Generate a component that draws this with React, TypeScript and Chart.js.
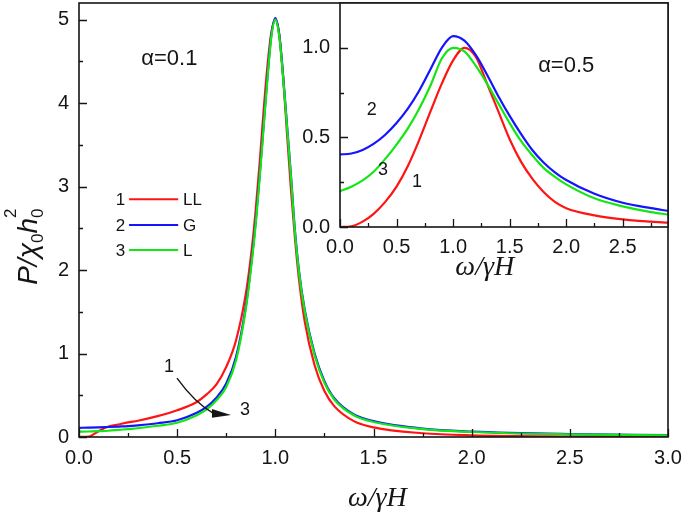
import React, { useEffect, useRef } from "react";
import { Chart, registerables } from "chart.js";

Chart.register(...registerables);

// ---------- Data ----------
// Main panel, alpha = 0.1
const mainX = [0, 0.05, 0.1, 0.15, 0.2, 0.25, 0.3, 0.4, 0.5, 0.6, 0.65, 0.7, 0.75, 0.8, 0.85, 0.88, 0.9, 0.92, 0.94, 0.96, 0.98, 1.0, 1.02, 1.04, 1.06, 1.08, 1.1, 1.12, 1.15, 1.2, 1.25, 1.3, 1.4, 1.5, 1.75, 2.0, 2.5, 3.0];
const mainLL = [0, 0.005, 0.07, 0.125, 0.15, 0.175, 0.195, 0.25, 0.32, 0.42, 0.51, 0.63, 0.84, 1.16, 1.72, 2.25, 2.72, 3.28, 3.9, 4.45, 4.85, 5.0, 4.82, 4.3, 3.62, 2.95, 2.38, 1.9, 1.38, 0.86, 0.55, 0.37, 0.19, 0.115, 0.045, 0.02, 0.006, 0.002];
const mainG = [0.11, 0.112, 0.115, 0.12, 0.125, 0.13, 0.14, 0.165, 0.2, 0.29, 0.36, 0.47, 0.64, 0.96, 1.57, 2.13, 2.58, 3.13, 3.73, 4.32, 4.82, 5.02, 4.82, 4.32, 3.72, 3.12, 2.47, 2.0, 1.52, 1.0, 0.67, 0.465, 0.27, 0.19, 0.1, 0.065, 0.035, 0.022];
const mainL = [0.065, 0.066, 0.07, 0.075, 0.085, 0.095, 0.105, 0.135, 0.17, 0.26, 0.33, 0.44, 0.6, 0.92, 1.54, 2.1, 2.55, 3.1, 3.7, 4.3, 4.8, 5.0, 4.8, 4.3, 3.7, 3.1, 2.45, 1.98, 1.5, 0.98, 0.65, 0.45, 0.26, 0.18, 0.095, 0.06, 0.032, 0.02];

// Inset panel, alpha = 0.5
const insetX = [0, 0.1, 0.2, 0.3, 0.4, 0.5, 0.6, 0.7, 0.8, 0.9, 1.0, 1.1, 1.2, 1.3, 1.4, 1.5, 1.6, 1.7, 1.8, 1.9, 2.0, 2.25, 2.5, 2.75, 2.9];
const insetLL = [0, 0.004, 0.03, 0.075, 0.14, 0.225, 0.34, 0.485, 0.645, 0.8, 0.93, 1.0, 0.95, 0.8, 0.645, 0.49, 0.365, 0.27, 0.195, 0.14, 0.105, 0.065, 0.043, 0.03, 0.024];
const insetG = [0.405, 0.41, 0.43, 0.465, 0.515, 0.58, 0.66, 0.76, 0.88, 1.0, 1.065, 1.04, 0.96, 0.85, 0.73, 0.62, 0.52, 0.43, 0.36, 0.305, 0.262, 0.185, 0.135, 0.105, 0.09];
const insetL = [0.2, 0.225, 0.26, 0.31, 0.38, 0.46, 0.55, 0.66, 0.79, 0.94, 1.0, 0.98, 0.9, 0.8, 0.69, 0.58, 0.48, 0.4, 0.33, 0.28, 0.238, 0.16, 0.115, 0.083, 0.07];

// Ticks
const mainXTicks = [0, 0.5, 1, 1.5, 2, 2.5, 3];
const mainXMinor = [0.25, 0.75, 1.25, 1.75, 2.25, 2.75];
const mainYTicks = [0, 1, 2, 3, 4, 5];
const mainYMinor = [0.5, 1.5, 2.5, 3.5, 4.5];
const insetXTicks = [0, 0.5, 1, 1.5, 2, 2.5];
const insetXMinor = [0.25, 0.75, 1.25, 1.75, 2.25, 2.75];
const insetYTicks = [0, 0.5, 1];
const insetYMinor = [0.25, 0.75];

// Legend
const seriesNums = ["1", "2", "3"];
const seriesNames = ["LL", "G", "L"];
const seriesColors = ["#ff1414", "#1414ff", "#14e614"];

const SANS = '"Liberation Sans", Arial, sans-serif';
const SERIF = '"Liberation Serif", "Times New Roman", serif';
const INK = "#151515";

function pts(xs: number[], ys: number[]) {
  return xs.map((v, i) => ({ x: v, y: ys[i] }));
}

function frameTicks(xMaj: number[], xMin: number[], yMaj: number[], yMin: number[]) {
  return {
    id: "frameTicks",
    afterDatasetsDraw(chart: any) {
      const { ctx, chartArea: a, scales } = chart;
      const x = scales.x;
      const y = scales.y;
      ctx.save();
      ctx.strokeStyle = INK;
      ctx.lineWidth = 1.6;
      ctx.strokeRect(a.left, a.top, a.right - a.left, a.bottom - a.top);
      ctx.lineWidth = 1.3;
      ctx.beginPath();
      const tick = (v: number, len: number, horiz: boolean) => {
        if (horiz) {
          const p = Math.round(x.getPixelForValue(v)) + 0.5;
          ctx.moveTo(p, a.bottom);
          ctx.lineTo(p, a.bottom - len);
        } else {
          const p = Math.round(y.getPixelForValue(v)) + 0.5;
          ctx.moveTo(a.left, p);
          ctx.lineTo(a.left + len, p);
        }
      };
      xMaj.forEach((v) => tick(v, 8, true));
      xMin.forEach((v) => tick(v, 4, true));
      yMaj.forEach((v) => tick(v, 8, false));
      yMin.forEach((v) => tick(v, 4, false));
      ctx.stroke();
      ctx.restore();
    },
  };
}

const mainAnnot = {
  id: "mainAnnot",
  afterDatasetsDraw(chart: any) {
    const { ctx, chartArea: a, scales } = chart;
    const x = scales.x;
    const y = scales.y;
    const px = (v: number) => x.getPixelForValue(v);
    const py = (v: number) => y.getPixelForValue(v);
    ctx.save();
    ctx.fillStyle = INK;
    ctx.strokeStyle = INK;
    ctx.textBaseline = "middle";

    // alpha label
    ctx.font = `22px ${SANS}`;
    ctx.textAlign = "center";
    ctx.fillText("α=0.1", px(0.46), py(4.53));

    // legend
    const rowY = [2.85, 2.54, 2.24];
    ctx.font = `17px ${SANS}`;
    rowY.forEach((ry, i) => {
      ctx.textAlign = "right";
      ctx.fillStyle = INK;
      ctx.fillText(seriesNums[i], px(0.235), py(ry) + 1);
      ctx.strokeStyle = seriesColors[i];
      ctx.lineWidth = 2;
      ctx.beginPath();
      ctx.moveTo(px(0.255), py(ry));
      ctx.lineTo(px(0.505), py(ry));
      ctx.stroke();
      ctx.textAlign = "left";
      ctx.fillText(seriesNames[i], px(0.53), py(ry) + 1);
    });

    // annotation 1 -> 3 arrow
    ctx.fillStyle = INK;
    ctx.strokeStyle = INK;
    ctx.font = `18px ${SANS}`;
    ctx.textAlign = "center";
    ctx.fillText("1", px(0.458), py(0.84));
    ctx.fillText("3", px(0.846), py(0.32));
    ctx.lineWidth = 1.4;
    ctx.beginPath();
    ctx.moveTo(px(0.499), py(0.706));
    ctx.quadraticCurveTo(px(0.59), py(0.41), px(0.683), py(0.287));
    ctx.stroke();
    ctx.beginPath();
    ctx.moveTo(px(0.774), py(0.263));
    ctx.lineTo(px(0.677), py(0.335));
    ctx.lineTo(px(0.677), py(0.23));
    ctx.closePath();
    ctx.fill();

    // x title
    ctx.font = `italic 28px ${SERIF}`;
    ctx.textAlign = "center";
    ctx.fillText("ω/γH", px(1.52), a.bottom + 62);

    // y title: P/χ0 h0^2, rotated
    const big = `italic 28px ${SANS}`;
    const small = `17px ${SANS}`;
    const parts: { t: string; f: string; dy: number; adv: boolean }[] = [
      { t: "P/χ", f: big, dy: 0, adv: true },
      { t: "0", f: small, dy: 6, adv: true },
      { t: "h", f: big, dy: 0, adv: true },
      { t: "0", f: small, dy: 6, adv: false },
      { t: "2", f: small, dy: -21, adv: true },
    ];
    let total = 0;
    parts.forEach((p) => {
      ctx.font = p.f;
      if (p.adv) total += ctx.measureText(p.t).width;
    });
    ctx.translate(37, py(2.28));
    ctx.rotate(-Math.PI / 2);
    ctx.textAlign = "left";
    ctx.textBaseline = "alphabetic";
    let cx = -total / 2;
    parts.forEach((p) => {
      ctx.font = p.f;
      ctx.fillText(p.t, cx, p.dy);
      if (p.adv) cx += ctx.measureText(p.t).width;
    });
    ctx.restore();
  },
};

const insetAnnot = {
  id: "insetAnnot",
  beforeDatasetsDraw(chart: any) {
    const { ctx, chartArea: a } = chart;
    ctx.save();
    ctx.fillStyle = "#ffffff";
    ctx.fillRect(a.left, a.top, a.right - a.left, a.bottom - a.top);
    ctx.restore();
  },
  afterDatasetsDraw(chart: any) {
    const { ctx, chartArea: a, scales } = chart;
    const x = scales.x;
    const y = scales.y;
    const px = (v: number) => x.getPixelForValue(v);
    const py = (v: number) => y.getPixelForValue(v);
    ctx.save();
    ctx.fillStyle = INK;
    ctx.textBaseline = "middle";
    ctx.textAlign = "center";
    ctx.font = `22px ${SANS}`;
    ctx.fillText("α=0.5", px(2.0), py(0.9));
    ctx.font = `18px ${SANS}`;
    ctx.fillText("2", px(0.28), py(0.65));
    ctx.fillText("3", px(0.38), py(0.32));
    ctx.fillText("1", px(0.68), py(0.25));
    ctx.font = `italic 28px ${SERIF}`;
    ctx.fillText("ω/γH", px(1.28), a.bottom + 41);
    ctx.restore();
  },
};

function axisCfg(opts: {
  min: number;
  max: number;
  ticks: number[];
  size: number;
  horiz: boolean;
  padding: number;
  fmt: (v: number) => string;
}) {
  return {
    type: "linear",
    min: opts.min,
    max: opts.max,
    afterBuildTicks: (s: any) => {
      s.ticks = opts.ticks.map((v) => ({ value: v }));
    },
    afterFit: (s: any) => {
      if (opts.horiz) s.height = opts.size;
      else s.width = opts.size;
      s.paddingTop = 0;
      s.paddingBottom = 0;
      s.paddingLeft = 0;
      s.paddingRight = 0;
    },
    grid: { display: false, drawTicks: false, tickLength: 0 },
    border: { display: false },
    ticks: {
      autoSkip: false,
      maxRotation: 0,
      padding: opts.padding,
      color: INK,
      font: { family: SANS, size: 20 },
      callback: (v: any) => opts.fmt(Number(v)),
    },
  };
}

function lineDs(data: { x: number; y: number }[], color: string, order: number) {
  return {
    data,
    borderColor: color,
    backgroundColor: color,
    borderWidth: 2.2,
    pointRadius: 0,
    fill: false,
    cubicInterpolationMode: "monotone",
    order,
  };
}

export default function App() {
  const mainRef = useRef<HTMLCanvasElement>(null);
  const insetRef = useRef<HTMLCanvasElement>(null);

  useEffect(() => {
    const main = new Chart(mainRef.current as HTMLCanvasElement, {
      type: "line",
      data: {
        datasets: [
          lineDs(pts(mainX, mainLL), seriesColors[0], 3),
          lineDs(pts(mainX, mainG), seriesColors[1], 2),
          lineDs(pts(mainX, mainL), seriesColors[2], 1),
        ] as any,
      },
      options: {
        animation: false,
        responsive: false,
        devicePixelRatio: 1,
        events: [],
        layout: { padding: { top: 3, right: 17, left: 0, bottom: 0 } },
        plugins: { legend: { display: false }, tooltip: { enabled: false } },
        scales: {
          x: axisCfg({ min: 0, max: 3, ticks: mainXTicks, size: 81, horiz: true, padding: 9, fmt: (v) => v.toFixed(1) }),
          y: axisCfg({ min: 0, max: 5.2, ticks: mainYTicks, size: 79, horiz: false, padding: 10, fmt: (v) => String(v) }),
        } as any,
      },
      plugins: [frameTicks(mainXTicks, mainXMinor, mainYTicks, mainYMinor), mainAnnot],
    });

    const inset = new Chart(insetRef.current as HTMLCanvasElement, {
      type: "line",
      data: {
        datasets: [
          lineDs(pts(insetX, insetLL), seriesColors[0], 3),
          lineDs(pts(insetX, insetG), seriesColors[1], 2),
          lineDs(pts(insetX, insetL), seriesColors[2], 1),
        ] as any,
      },
      options: {
        animation: false,
        responsive: false,
        devicePixelRatio: 1,
        events: [],
        layout: { padding: { top: 3, right: 17, left: 0, bottom: 0 } },
        plugins: { legend: { display: false }, tooltip: { enabled: false } },
        scales: {
          x: axisCfg({ min: 0, max: 2.9, ticks: insetXTicks, size: 73, horiz: true, padding: 8, fmt: (v) => v.toFixed(1) }),
          y: axisCfg({ min: 0, max: 1.25, ticks: insetYTicks, size: 50, horiz: false, padding: 10, fmt: (v) => v.toFixed(1) }),
        } as any,
      },
      plugins: [frameTicks(insetXTicks, insetXMinor, insetYTicks, insetYMinor), insetAnnot],
    });

    return () => {
      main.destroy();
      inset.destroy();
    };
  }, []);

  return (
    <div style={{ position: "absolute", left: 0, top: 0, width: 685, height: 518, background: "#fff" }}>
      <canvas ref={mainRef} width={685} height={518} style={{ position: "absolute", left: 0, top: 0, width: 685, height: 518 }} />
      <canvas ref={insetRef} width={395} height={300} style={{ position: "absolute", left: 290, top: 0, width: 395, height: 300 }} />
    </div>
  );
}
